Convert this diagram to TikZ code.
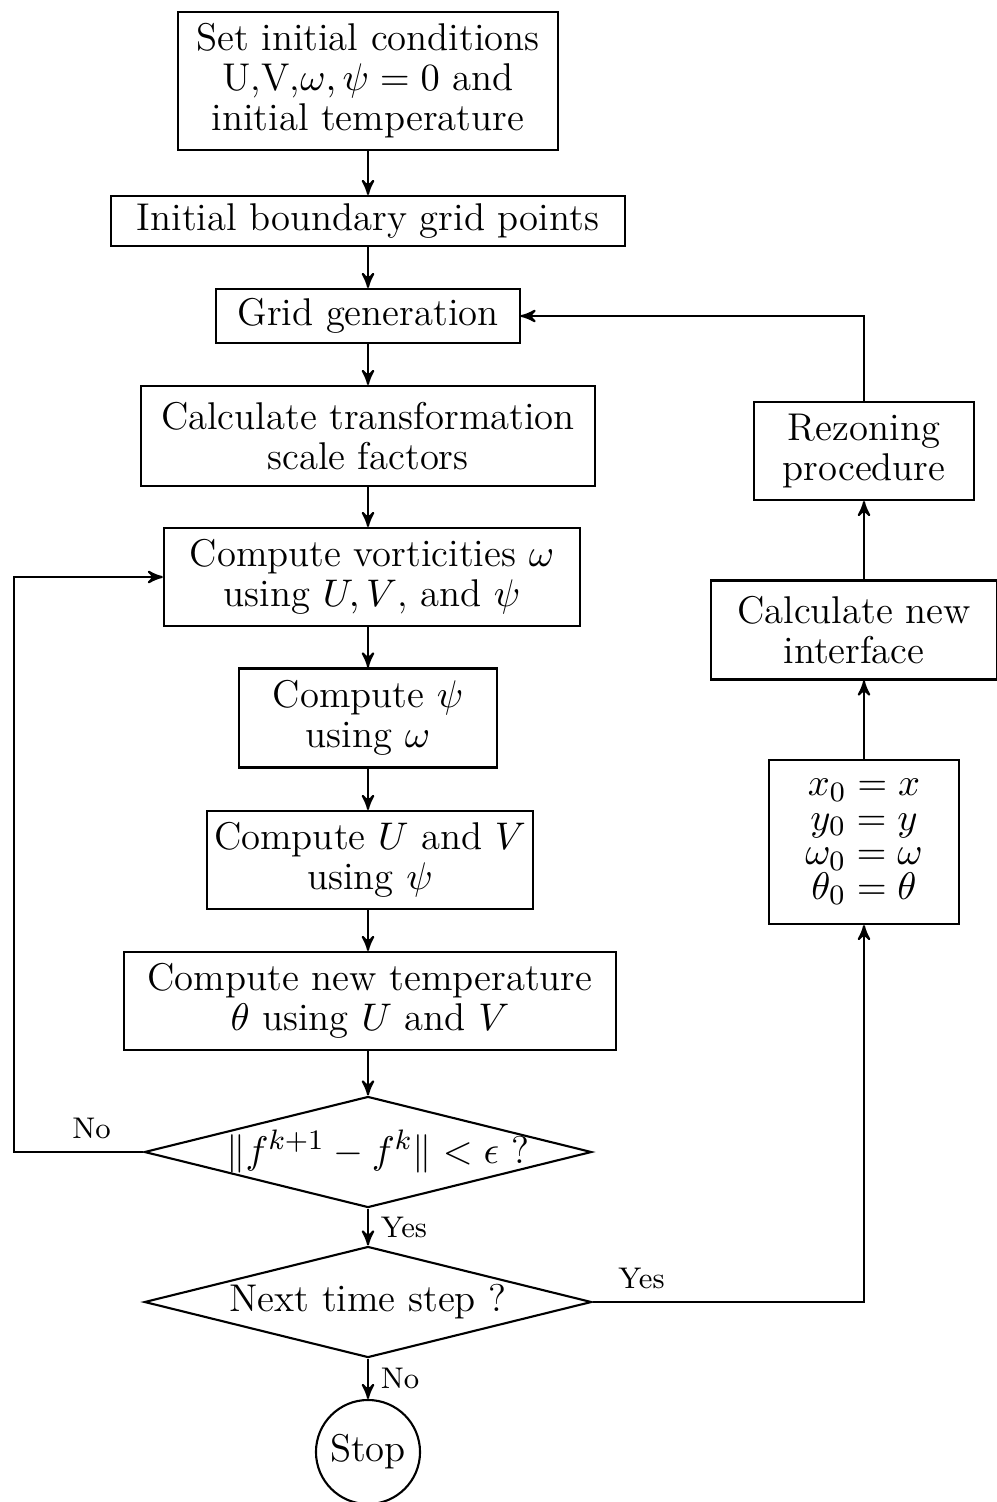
\documentclass[tikz,border=0pt]{standalone}
\usepackage{amsmath}
\usepackage{tikz}
\usetikzlibrary{arrows,shapes.geometric}

\begin{document}
\begin{tikzpicture}[->,>=stealth',semithick,x=0.01cm,y=-0.01cm,
  font=\fontsize{11}{11.4}\selectfont]
  \tikzstyle{block}=[draw,rectangle,align=center,inner sep=0pt]
  \tikzstyle{decision}=[draw,diamond,aspect=4,inner sep=0pt,
    minimum width=4.47cm,minimum height=1.11cm]
  \tikzstyle{stopnode}=[draw,circle,inner sep=0pt,minimum size=1.04cm]
  \tikzstyle{answer}=[font=\fontsize{8.5}{10}\selectfont]

  \useasboundingbox (0,0) rectangle (997,1502);

  % main column
  \node[block,minimum width=3.80cm,minimum height=1.38cm] (init) at (368,81)
    {Set initial conditions\\ U,V,$\omega, \psi = 0$ and\\ initial temperature};
  \node[block,minimum width=5.14cm,minimum height=0.50cm] (bound) at (368,221)
    {Initial boundary grid points};
  \node[block,minimum width=3.03cm,minimum height=0.54cm] (grid) at (368,316)
    {Grid generation};
  \node[block,minimum width=4.54cm,minimum height=1.00cm] (scale) at (368,436)
    {Calculate transformation\\ scale factors};
  \node[block,minimum width=4.16cm,minimum height=0.98cm] (vort) at (372,577)
    {Compute vorticities $\omega$\\ using $U,V$, and $\psi$};
  \node[block,minimum width=2.58cm,minimum height=0.99cm] (psi) at (368,718)
    {Compute $\psi$\\ using $\omega$};
  \node[block,minimum width=3.25cm,minimum height=0.98cm] (uv) at (370,860)
    {Compute $U$ and $V$\\ using $\psi$};
  \node[block,minimum width=4.91cm,minimum height=0.98cm] (temp) at (370,1001)
    {Compute new temperature\\ $\theta$ using $U$ and $V$};
  \node[decision] (conv) at (368,1152)
    {\makebox[0pt]{\hspace{0.2cm}$\|f^{k+1}-f^k\|<\epsilon$ ?}};
  \node[decision] (next) at (368,1302) {Next time step ?};
  \node[stopnode] (stop) at (368,1452) {Stop};

  % right column
  \node[block,minimum width=2.20cm,minimum height=0.98cm] (rezone) at (864,451)
    {Rezoning\\ procedure};
  \node[block,minimum width=2.85cm,minimum height=0.99cm] (iface) at (854,630)
    {Calculate new\\ interface};
  \node[block,minimum width=1.90cm,minimum height=1.64cm,
    font=\fontsize{11}{9.8}\selectfont] (store) at (864,842)
    {$x_0=x$\\ $y_0=y$\\ $\omega_0=\omega$\\ $\theta_0=\theta$};

  \coordinate (back) at (14,1152);

  \draw (init) -- (bound);
  \draw (bound) -- (grid);
  \draw (grid) -- (scale);
  \draw (scale) -- (scale.south |- vort.north);
  \draw (vort.south -| psi) -- (psi);
  \draw (psi) -- (psi.south |- uv.north);
  \draw (uv.south -| psi) -- (psi.south |- temp.north);
  \draw (temp.south -| conv) -- (conv);
  \draw (conv) -- node[answer,right] {Yes} (next);
  \draw (next) -- node[answer,right] {No} (stop);
  \draw (conv.west) -- node[answer,above,pos=0.4] {No} (back) |- (vort.west);
  \draw (next.east) -| node[answer,above,pos=0.09] {Yes} (store.south);
  \draw (store.north) -- (store.north |- iface.south);
  \draw (rezone.south |- iface.north) -- (rezone.south);
  \draw (rezone.north) |- (grid.east);
\end{tikzpicture}
\end{document}
